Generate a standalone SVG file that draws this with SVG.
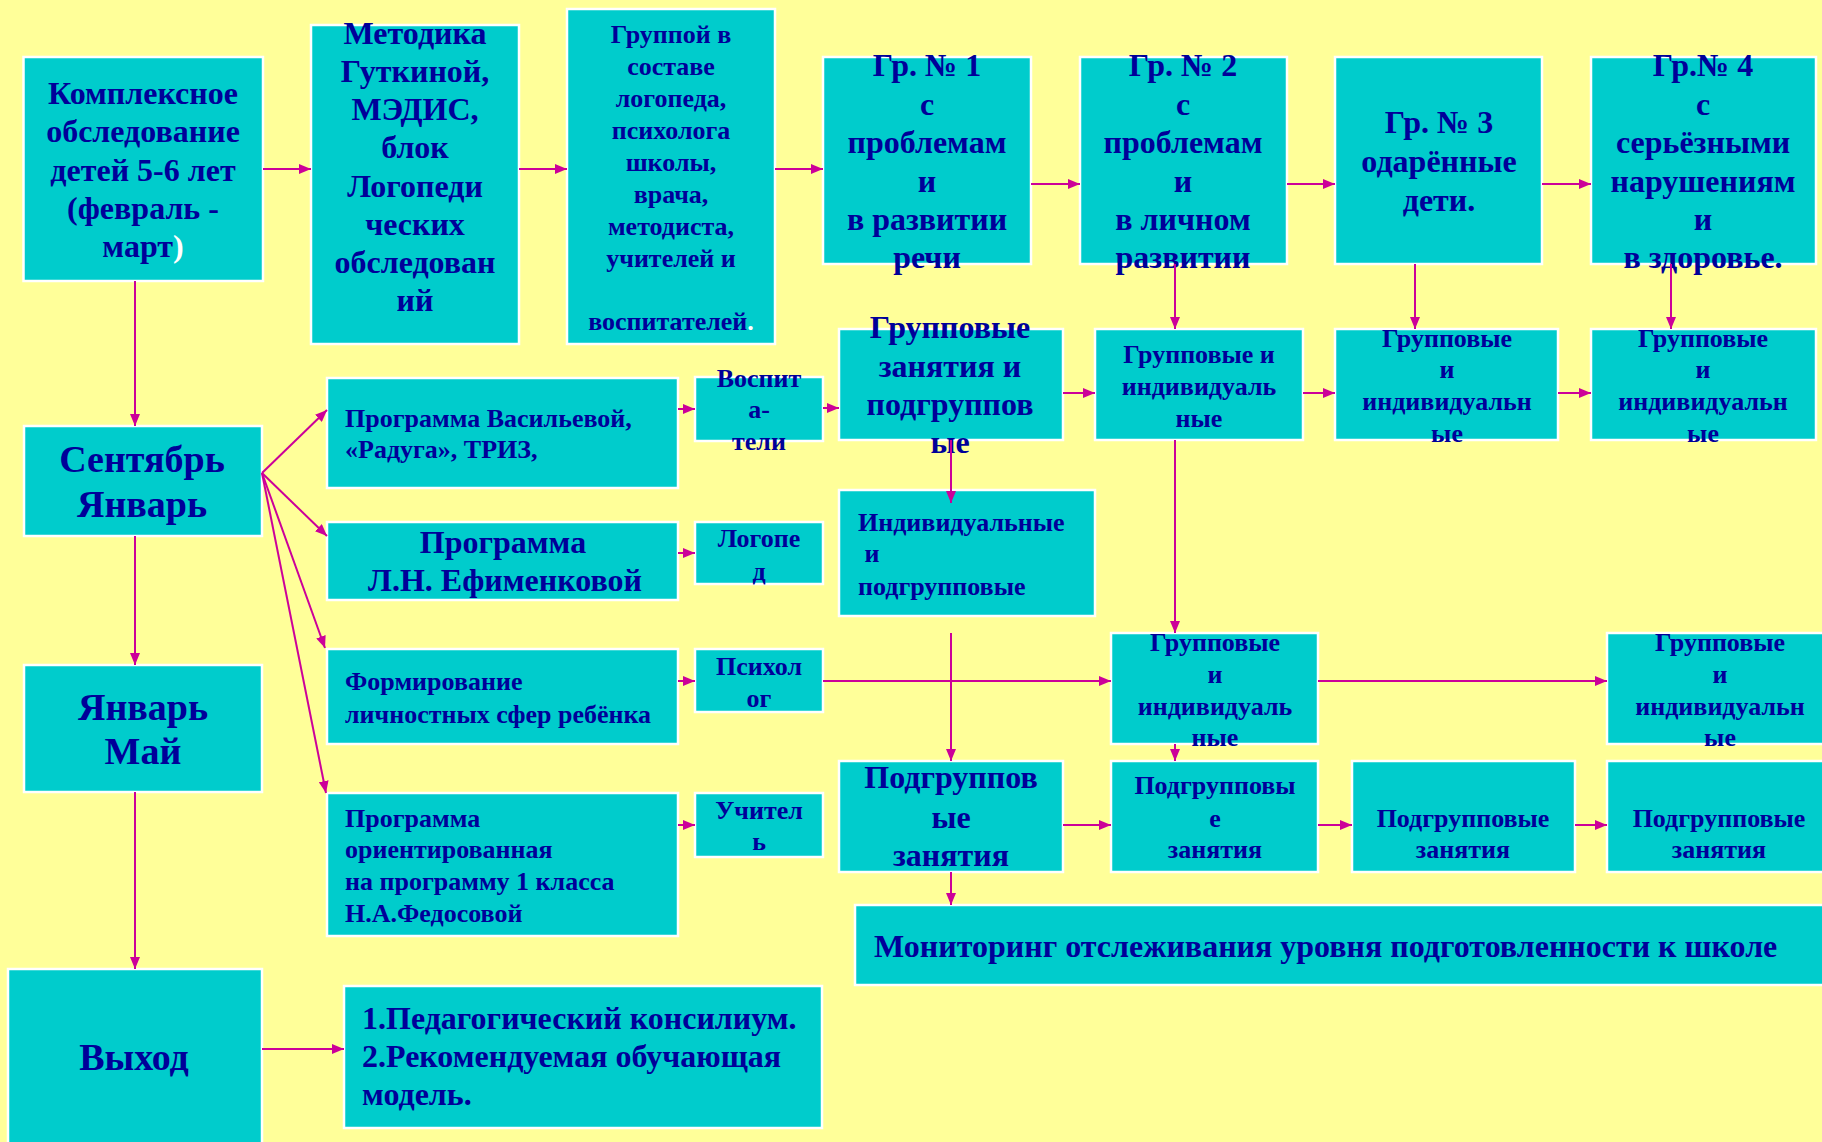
<svg xmlns="http://www.w3.org/2000/svg" width="1822" height="1142" viewBox="0 0 1822 1142">
<defs>
<style>
.bx{fill:#00CCCC;stroke:#FFFFFF;stroke-width:2.5}
text{font-family:"Liberation Serif","Times New Roman",serif;font-weight:bold;fill:#000099}
.c{text-anchor:middle}
.L{font-size:32px}
.S{font-size:26px}
.X{font-size:38px}
.w{fill:#FFFFFF}
.cn line{stroke:#CC0099;stroke-width:2;marker-end:url(#ah)}
</style>
<marker id="ah" markerUnits="userSpaceOnUse" markerWidth="12" markerHeight="10" refX="12" refY="5" orient="auto">
<path d="M0,0 L12,5 L0,10 z" fill="#CC0099"/>
</marker>
</defs>
<rect x="0" y="0" width="1822" height="1142" fill="#FFFF99"/>

<g id="n1"><rect class="bx" x="23.5" y="57" width="239.5" height="224"/>
<text class="c L" x="143"><tspan x="143" y="104">Комплексное</tspan><tspan x="143" y="142">обследование</tspan><tspan x="143" y="181">детей 5-6 лет</tspan><tspan x="143" y="219">(февраль -</tspan><tspan x="143" y="257">март<tspan class="w">)</tspan></tspan></text></g>

<g id="n2"><rect class="bx" x="311" y="25" width="208" height="319"/>
<text class="c L"><tspan x="415" y="43.5">Методика</tspan><tspan x="415" y="81.5">Гуткиной,</tspan><tspan x="415" y="120">МЭДИС,</tspan><tspan x="415" y="158">блок</tspan><tspan x="415" y="196.5">Логопеди</tspan><tspan x="415" y="234.5">ческих</tspan><tspan x="415" y="273">обследован</tspan><tspan x="415" y="311">ий</tspan></text></g>

<g id="n3"><rect class="bx" x="567" y="9" width="208" height="335"/>
<text class="c S"><tspan x="671" y="43">Группой в</tspan><tspan x="671" y="75">составе</tspan><tspan x="671" y="107">логопеда,</tspan><tspan x="671" y="139">психолога</tspan><tspan x="671" y="171">школы,</tspan><tspan x="671" y="203">врача,</tspan><tspan x="671" y="235">методиста,</tspan><tspan x="671" y="267">учителей и</tspan><tspan x="671" y="330">воспитателей<tspan class="w">.</tspan></tspan></text></g>

<g id="g1"><rect class="bx" x="823" y="57" width="208" height="207"/>
<text class="c L"><tspan x="927" y="76">Гр. № 1</tspan><tspan x="927" y="115">с</tspan><tspan x="927" y="153">проблемам</tspan><tspan x="927" y="192">и</tspan><tspan x="927" y="230">в развитии</tspan><tspan x="927" y="268">речи</tspan></text></g>

<g id="g2"><rect class="bx" x="1080" y="57" width="207" height="207"/>
<text class="c L"><tspan x="1183" y="76">Гр. № 2</tspan><tspan x="1183" y="115">с</tspan><tspan x="1183" y="153">проблемам</tspan><tspan x="1183" y="192">и</tspan><tspan x="1183" y="230">в личном</tspan><tspan x="1183" y="268">развитии</tspan></text></g>

<g id="g3"><rect class="bx" x="1335" y="57" width="207" height="207"/>
<text class="c L"><tspan x="1439" y="133">Гр. № 3</tspan><tspan x="1439" y="172">одарённые</tspan><tspan x="1439" y="211">дети.</tspan></text></g>

<g id="g4"><rect class="bx" x="1591" y="57" width="225" height="207"/>
<text class="c L"><tspan x="1703" y="76">Гр.№ 4</tspan><tspan x="1703" y="115">с</tspan><tspan x="1703" y="153">серьёзными</tspan><tspan x="1703" y="192">нарушениям</tspan><tspan x="1703" y="230">и</tspan><tspan x="1703" y="268">в здоровье.</tspan></text></g>

<g id="r2a"><rect class="bx" x="839" y="329" width="224" height="111"/>
<text class="c L"><tspan x="950" y="338">Групповые</tspan><tspan x="950" y="377">занятия и</tspan><tspan x="950" y="415">подгруппов</tspan><tspan x="950" y="453">ые</tspan></text></g>

<g id="r2b"><rect class="bx" x="1095" y="329" width="208" height="111"/>
<text class="c S"><tspan x="1199" y="363">Групповые и</tspan><tspan x="1199" y="395">индивидуаль</tspan><tspan x="1199" y="427">ные</tspan></text></g>

<g id="r2c"><rect class="bx" x="1335" y="329" width="223" height="111"/>
<text class="c S"><tspan x="1447" y="347">Групповые</tspan><tspan x="1447" y="378">и</tspan><tspan x="1447" y="410">индивидуальн</tspan><tspan x="1447" y="442">ые</tspan></text></g>

<g id="r2d"><rect class="bx" x="1591" y="329" width="225" height="111"/>
<text class="c S"><tspan x="1703" y="347">Групповые</tspan><tspan x="1703" y="378">и</tspan><tspan x="1703" y="410">индивидуальн</tspan><tspan x="1703" y="442">ые</tspan></text></g>

<g id="sep"><rect class="bx" x="24" y="426" width="238" height="110"/>
<text class="c X"><tspan x="142" y="472">Сентябрь</tspan><tspan x="142" y="517">Январь</tspan></text></g>

<g id="jan"><rect class="bx" x="24" y="665" width="238" height="127"/>
<text class="c X"><tspan x="143" y="720">Январь</tspan><tspan x="143" y="764">Май</tspan></text></g>

<g id="out"><rect class="bx" x="8" y="969" width="254" height="180"/>
<text class="c X" x="134" y="1070">Выход</text></g>

<g id="p1"><rect class="bx" x="327" y="378" width="351" height="110"/>
<text class="S"><tspan x="345" y="427">Программа Васильевой,</tspan><tspan x="345" y="458">«Радуга», ТРИЗ,</tspan></text></g>

<g id="p2"><rect class="bx" x="327" y="522" width="351" height="78"/>
<text class="c L"><tspan x="503" y="553">Программа</tspan><tspan x="505" y="591">Л.Н. Ефименковой</tspan></text></g>

<g id="p3"><rect class="bx" x="327" y="649" width="351" height="95"/>
<text class="S"><tspan x="345" y="690">Формирование</tspan><tspan x="345" y="723">личностных сфер ребёнка</tspan></text></g>

<g id="p4"><rect class="bx" x="327" y="793" width="351" height="143"/>
<text class="S"><tspan x="345" y="827">Программа</tspan><tspan x="345" y="858">ориентированная</tspan><tspan x="345" y="890">на программу 1 класса</tspan><tspan x="345" y="922">Н.А.Федосовой</tspan></text></g>

<g id="s1"><rect class="bx" x="695" y="377" width="128" height="64"/>
<text class="c S"><tspan x="759" y="387">Воспит</tspan><tspan x="759" y="418">а-</tspan><tspan x="759" y="450">тели</tspan></text></g>

<g id="s2"><rect class="bx" x="695" y="522" width="128" height="62"/>
<text class="c S"><tspan x="759" y="547">Логопе</tspan><tspan x="759" y="580">д</tspan></text></g>

<g id="s3"><rect class="bx" x="695" y="649" width="128" height="63"/>
<text class="c S"><tspan x="759" y="675">Психол</tspan><tspan x="759" y="707">ог</tspan></text></g>

<g id="s4"><rect class="bx" x="695" y="793" width="128" height="64"/>
<text class="c S"><tspan x="759" y="819">Учител</tspan><tspan x="759" y="850">ь</tspan></text></g>

<g id="ind"><rect class="bx" x="839" y="490" width="256" height="126"/>
<text class="S"><tspan x="858" y="531">Индивидуальные</tspan><tspan x="858" y="562"> и</tspan><tspan x="858" y="595">подгрупповые</tspan></text></g>

<g id="r3b"><rect class="bx" x="1111" y="633" width="207" height="111"/>
<text class="c S"><tspan x="1215" y="651">Групповые</tspan><tspan x="1215" y="683">и</tspan><tspan x="1215" y="715">индивидуаль</tspan><tspan x="1215" y="746">ные</tspan></text></g>

<g id="r3d"><rect class="bx" x="1607" y="633" width="230" height="111"/>
<text class="c S"><tspan x="1720" y="651">Групповые</tspan><tspan x="1720" y="683">и</tspan><tspan x="1720" y="715">индивидуальн</tspan><tspan x="1720" y="746">ые</tspan></text></g>

<g id="r4a"><rect class="bx" x="839" y="761" width="224" height="111"/>
<text class="c L"><tspan x="951" y="788">Подгруппов</tspan><tspan x="951" y="828">ые</tspan><tspan x="951" y="866">занятия</tspan></text></g>

<g id="r4b"><rect class="bx" x="1111" y="761" width="207" height="111"/>
<text class="c S"><tspan x="1215" y="794">Подгрупповы</tspan><tspan x="1215" y="827">е</tspan><tspan x="1215" y="858">занятия</tspan></text></g>

<g id="r4c"><rect class="bx" x="1352" y="761" width="223" height="111"/>
<text class="c S"><tspan x="1463" y="827">Подгрупповые</tspan><tspan x="1463" y="858">занятия</tspan></text></g>

<g id="r4d"><rect class="bx" x="1607" y="761" width="230" height="111"/>
<text class="c S"><tspan x="1719" y="827">Подгрупповые</tspan><tspan x="1719" y="858">занятия</tspan></text></g>

<g id="mon"><rect class="bx" x="855" y="905" width="980" height="80"/>
<text class="L" x="874" y="957">Мониторинг отслеживания уровня подготовленности к школе</text></g>

<g id="ped"><rect class="bx" x="344" y="986" width="478" height="142"/>
<text class="L"><tspan x="362" y="1029">1.Педагогический консилиум.</tspan><tspan x="362" y="1067">2.Рекомендуемая обучающая</tspan><tspan x="362" y="1105">модель.</tspan></text></g>

<g id="connectors" class="cn">
<line x1="263" y1="169" x2="311" y2="169"/>
<line x1="519" y1="169" x2="567" y2="169"/>
<line x1="775" y1="169" x2="823" y2="169"/>
<line x1="1031" y1="184" x2="1080" y2="184"/>
<line x1="1287" y1="184" x2="1335" y2="184"/>
<line x1="1542" y1="184" x2="1591" y2="184"/>
<line x1="1175" y1="264" x2="1175" y2="329"/>
<line x1="1415" y1="264" x2="1415" y2="329"/>
<line x1="1671" y1="264" x2="1671" y2="329"/>
<line x1="1063" y1="393" x2="1095" y2="393"/>
<line x1="1303" y1="393" x2="1335" y2="393"/>
<line x1="1558" y1="393" x2="1591" y2="393"/>
<line x1="823" y1="408" x2="839" y2="408"/>
<line x1="678" y1="409" x2="695" y2="409"/>
<line x1="678" y1="553" x2="695" y2="553"/>
<line x1="678" y1="681" x2="695" y2="681"/>
<line x1="678" y1="825" x2="695" y2="825"/>
<line x1="135" y1="281" x2="135" y2="426"/>
<line x1="135" y1="536" x2="135" y2="665"/>
<line x1="135" y1="792" x2="135" y2="969"/>
<line x1="262" y1="473" x2="327" y2="410"/>
<line x1="262" y1="473" x2="327" y2="536"/>
<line x1="262" y1="473" x2="325" y2="648"/>
<line x1="262" y1="473" x2="326" y2="793"/>
<line x1="951" y1="440" x2="951" y2="503"/>
<line x1="951" y1="633" x2="951" y2="761"/>
<line x1="823" y1="681" x2="1111" y2="681"/>
<line x1="1318" y1="681" x2="1607" y2="681"/>
<line x1="1175" y1="440" x2="1175" y2="633"/>
<line x1="1175" y1="744" x2="1175" y2="761"/>
<line x1="1063" y1="825" x2="1111" y2="825"/>
<line x1="1318" y1="825" x2="1352" y2="825"/>
<line x1="1575" y1="825" x2="1607" y2="825"/>
<line x1="951" y1="872" x2="951" y2="905"/>
<line x1="262" y1="1049" x2="344" y2="1049"/>
</g>
</svg>
